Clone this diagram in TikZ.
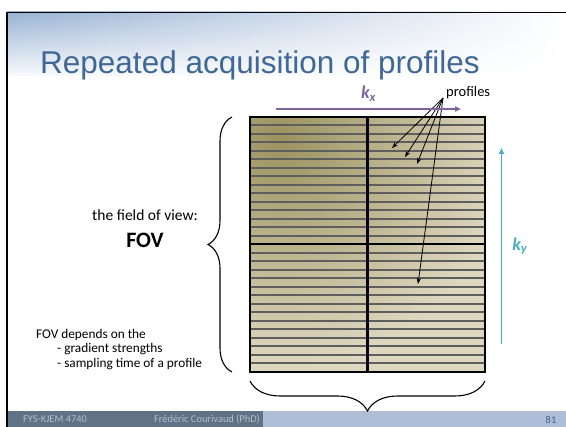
\documentclass[tikz,border=0pt]{standalone}
\usepackage{fontspec}
\setmainfont{Carlito}
\newfontfamily\arialfont{Liberation Sans}
\usetikzlibrary{arrows.meta,decorations.pathreplacing,shadings}

\definecolor{hdrblue}{HTML}{98B2D3}
\definecolor{titleblue}{HTML}{3F6897}
\definecolor{kolive}{HTML}{9C925F}
\definecolor{kbeige}{HTML}{DDD7BF}
\definecolor{stripgray}{HTML}{5E5E5E}
\definecolor{kxpurple}{HTML}{8064A2}
\definecolor{kyblue}{HTML}{4BACC6}
\definecolor{ftdark}{HTML}{5F7286}
\definecolor{ftlight}{HTML}{AEBED6}
\definecolor{fttext}{HTML}{B4BFCA}
\definecolor{numblue}{HTML}{3F5F84}

\begin{document}
\begin{tikzpicture}[x=1pt,y=-1pt,
		strip/.style={draw=stripgray,line width=2pt},
		ptr/.style={-{Stealth[length=6pt,width=4.5pt]},line width=0.8pt},
		brc/.style={decorate,decoration={brace,amplitude=#1},line width=1.1pt},
		kaxis/.style={draw=#1,line width=1.5pt,-{Triangle[length=6pt,width=5pt]}},
		klabel/.style={text=#1,font=\fontsize{18}{20}\selectfont\bfseries\itshape,inner sep=1pt}
	]
	\useasboundingbox (0,0) rectangle (566,427);
	
	% header and footer
	\begin{scope}[y=1pt]
		\shade[upper left=hdrblue,upper right=white,lower left=hdrblue!6,lower right=white] (7,-12) rectangle (566,-76);
	\end{scope}
	\fill[ftdark] (7,411) rectangle (263,427);
	\fill[ftlight] (263,411) rectangle (566,427);
	\draw[line width=1.6pt] (7,427) -- (7,12.5) -- (566,12.5);
	
	\node[anchor=base west,inner sep=0,text=titleblue,font=\arialfont\fontsize{31.5}{36}\selectfont] (T) at (40,74) {Repeated acquisition of profiles};
	
	% the k-space grid
	\begin{scope}
		\clip (250,117) rectangle (485,372);
		\fill[kbeige] (250,117) rectangle (485,372);
		\shade[inner color=kolive,outer color=kbeige] (280,140) circle (225);
	\end{scope}
	\foreach \i in {1,...,29}
		\draw[strip] (250,117+8.5*\i) -- (485,117+8.5*\i);
	\draw[line width=2pt] (250,244.5) -- (485,244.5);
	\draw[line width=3pt] (367.5,117) -- (367.5,372);
	\draw[line width=2.5pt] (250,117) rectangle (485,372);
	
	% labels
	\begin{scope}[every node/.style={inner sep=0}]
		\node (L) at (145,215) {\fontsize{15.5}{18}\selectfont the field of view:};
		\node (V) at (145,240) {\fontsize{22}{26}\selectfont\bfseries FOV};
		\node[anchor=north west,align=left,font=\fontsize{13.3}{14.5}\selectfont] (D) at (36,329)
			{FOV depends on the\\\hspace*{21pt}- gradient strengths\\\hspace*{21pt}- sampling time of a profile};
		\node[anchor=south west,font=\fontsize{14.5}{16}\selectfont] (P) at (446,99) {profiles};
	\end{scope}
	
	% profile pointers
	\coordinate (e1) at (392,148);
	\coordinate (e2) at (405,157);
	\coordinate (e3) at (417,164);
	\coordinate (e4) at (418,284);
	\foreach \e in {e1,e2,e3,e4}
		\draw[ptr] (P.south west) ++(-3,-1) -- (\e);
	
	% k axes
	\coordinate (kx0) at (276,109);
	\coordinate (kx1) at (461,109);
	\coordinate (ky0) at (501.5,344);
	\coordinate (ky1) at (501.5,148);
	\path (kx0) edge[kaxis=kxpurple] node[above=6pt,klabel=kxpurple] (KX) {k\textsubscript{x}} (kx1);
	\path (ky0) edge[kaxis=kyblue] node[right=9pt,klabel=kyblue] (KY) {k\textsubscript{y}} (ky1);
	
	% braces
	\draw[brc=24] (232,372) -- (232,117);
	\draw[brc=30] (485,381) -- (250,381);
	%\draw[brc=24] (510,372) -- (510,117);
	
	% footer text
	\begin{scope}[every node/.style={font=\fontsize{10.4}{12}\selectfont,inner sep=0}]
		\node[text=fttext] (C) at (55,419.5) {FYS-KJEM 4740};
		\node[text=fttext] (A) at (207,419.5) {Frédéric Courivaud (PhD)};
		\node[text=numblue] (N) at (551,419.5) {81};
	\end{scope}
\end{tikzpicture}
\end{document}
